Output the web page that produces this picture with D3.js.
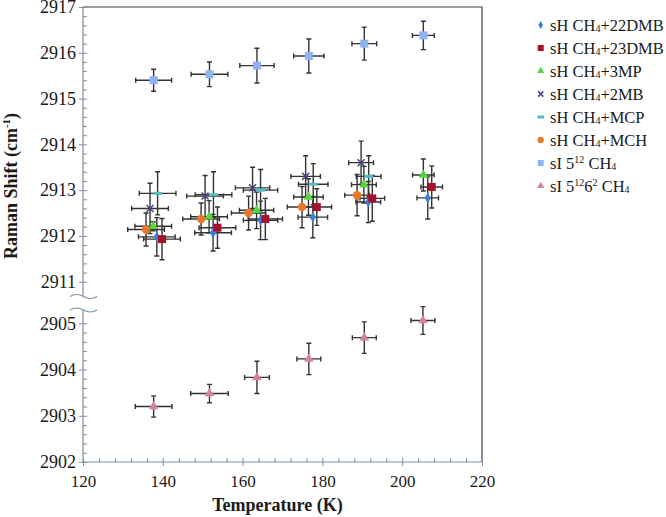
<!DOCTYPE html>
<html>
<head>
<meta charset="utf-8">
<script src="https://cdn.jsdelivr.net/npm/d3@7"></script>
<style>
body { margin: 0; background: #fff; }
text { font-family: "Liberation Serif", "Times New Roman", serif; }
</style>
</head>
<body>
<div id="chart"></div>
<script>
var w = 666;
var h = 517;
var mLeft = 83, mRight = 482, mTop = 7, mBottom = 462;

// data (T in K, Raman shift in cm-1)
var xErrH = [4.6, 4.6, 4.3, 3.7, 3.1, 2.7];

var t22DMB = [138.5, 152.6, 164.5, 177.6, 191.5, 206.4];
var v22DMB = [2911.98, 2912.07, 2912.34, 2912.41, 2912.74, 2912.83];
var e22DMB = [0.42, 0.40, 0.42, 0.45, 0.45, 0.46];

var t23DMB = [139.8, 153.7, 165.7, 178.6, 192.5, 207.4];
var v23DMB = [2911.93, 2912.18, 2912.37, 2912.63, 2912.82, 2913.07];
var e23DMB = [0.45, 0.45, 0.45, 0.40, 0.50, 0.46];

var t3MP = [137.6, 151.6, 163.5, 176.5, 190.4, 205.3];
var v3MP = [2912.21, 2912.42, 2912.56, 2912.85, 2913.12, 2913.33];
var e3MP = [0.10, 0.35, 0.40, 0.40, 0.40, 0.35];

var t2MB = [136.8, 150.6, 162.5, 175.8, 189.7];
var v2MB = [2912.60, 2912.87, 2913.05, 2913.30, 2913.60];
var e2MB = [0.55, 0.45, 0.45, 0.45, 0.47];

var tMCP = [138.7, 152.7, 164.5, 177.7, 191.6];
var vMCP = [2912.93, 2912.90, 2913.00, 2913.13, 2913.30];
var eMCP = [0.47, 0.50, 0.45, 0.45, 0.45];

var tMCH = [135.8, 149.6, 161.5, 174.9, 188.7];
var vMCH = [2912.14, 2912.37, 2912.50, 2912.63, 2912.89];
var eMCH = [0.36, 0.35, 0.37, 0.45, 0.45];

var tS12 = [137.7, 151.7, 163.6, 176.6, 190.5, 205.3];
var vS12 = [2915.40, 2915.53, 2915.72, 2915.93, 2916.20, 2916.38];
var xeS12 = [4.5, 4.6, 4.3, 3.8, 3.1, 2.75];
var yeS12 = [0.24, 0.27, 0.38, 0.37, 0.36, 0.31];

var tS1262 = [137.7, 151.7, 163.6, 176.6, 190.5, 205.2];
var vS1262 = [2903.20, 2903.48, 2903.83, 2904.23, 2904.69, 2905.06];
var xeS1262 = [4.6, 4.7, 3.1, 3.0, 3.0, 3.0];
var yeS1262 = [0.23, 0.20, 0.35, 0.34, 0.34, 0.30];

var upperTicks = [2911, 2912, 2913, 2914, 2915, 2916, 2917];
var lowerTicks = [2902, 2903, 2904, 2905];
var xTicks = [120, 140, 160, 180, 200, 220];

// legend labels: [text, "" | "sub" | "sup"]
var legendLabels = [
    [["sH CH", ""], ["4", "sub"], ["+22DMB", ""]],
    [["sH CH", ""], ["4", "sub"], ["+23DMB", ""]],
    [["sH CH", ""], ["4", "sub"], ["+3MP", ""]],
    [["sH CH", ""], ["4", "sub"], ["+2MB", ""]],
    [["sH CH", ""], ["4", "sub"], ["+MCP", ""]],
    [["sH CH", ""], ["4", "sub"], ["+MCH", ""]],
    [["sI 5", ""], ["12", "sup"], [" CH", ""], ["4", "sub"]],
    [["sI 5", ""], ["12", "sup"], ["6", ""], ["2", "sup"], [" CH", ""], ["4", "sub"]]
];
var colors = ["#3d80dc", "#a8112e", "#56d63c", "#4d4288", "#55b9c8", "#e8772e", "#8db4f0", "#d680a2"];
var shapes = ["diamond", "square", "triangle", "x", "dash", "circle", "square", "triangle"];

function pts(t, v, xe, ye) {
    return t.map(function (d, i) {
        return {t: d, v: v[i], xe: xe[i], ye: ye[i]};
    });
}

var series = [
    pts(t22DMB, v22DMB, xErrH, e22DMB),
    pts(t23DMB, v23DMB, xErrH, e23DMB),
    pts(t3MP, v3MP, xErrH, e3MP),
    pts(t2MB, v2MB, xErrH, e2MB),
    pts(tMCP, vMCP, xErrH, eMCP),
    pts(tMCH, vMCH, xErrH, eMCH),
    pts(tS12, vS12, xeS12, yeS12),
    pts(tS1262, vS1262, xeS1262, yeS1262)
];

var x = d3.scaleLinear().domain([120, 220]).range([mLeft, mRight]);
var yUp = d3.scaleLinear().domain([2911, 2917]).range([281.7, mTop]);
var yLo = d3.scaleLinear().domain([2902, 2905]).range([mBottom, 323.3]);
function y(v) { return v > 2908 ? yUp(v) : yLo(v); }

var svg = d3.select("#chart")
    .append("svg")
    .attr("width", w)
    .attr("height", h);

var axisColor = "#7e8fa0";

// frame top and right
svg.append("path")
    .attr("d", "M" + mLeft + "," + mTop + "H" + mRight + "V" + mBottom)
    .attr("fill", "none")
    .attr("stroke", "#444")
    .attr("stroke-width", 1.2);

function minors(a, b, step) {
    var r = [];
    for (var v = a; v <= b + 1e-9; v += step) r.push(+v.toFixed(2));
    return r;
}
function styleAxis(size) {
    return function (g) {
        g.select(".domain").remove();
        g.selectAll("line").attr("stroke", axisColor);
        g.selectAll("text")
            .style("font-size", size)
            .attr("fill", "#1a1a1a");
    };
}

// minor ticks (inside)
svg.append("g")
    .attr("transform", "translate(" + mLeft + ",0)")
    .call(d3.axisLeft(yUp).tickValues(minors(2911, 2917, 0.2)).tickSize(-4).tickFormat(""))
    .call(styleAxis("0px"));
svg.append("g")
    .attr("transform", "translate(" + mLeft + ",0)")
    .call(d3.axisLeft(yLo).tickValues(minors(2902, 2905, 0.2)).tickSize(-4).tickFormat(""))
    .call(styleAxis("0px"));
svg.append("g")
    .attr("transform", "translate(0," + mBottom + ")")
    .call(d3.axisBottom(x).tickValues(minors(120, 220, 4)).tickSize(-4).tickFormat(""))
    .call(styleAxis("0px"));

// major ticks with labels
svg.append("g")
    .attr("transform", "translate(" + mLeft + ",0)")
    .call(d3.axisLeft(yUp).tickValues(upperTicks).tickSize(4).tickPadding(3).tickFormat(d3.format("d")))
    .call(styleAxis("18px"));
svg.append("g")
    .attr("transform", "translate(" + mLeft + ",0)")
    .call(d3.axisLeft(yLo).tickValues(lowerTicks).tickSize(4).tickPadding(3).tickFormat(d3.format("d")))
    .call(styleAxis("18px"));
svg.append("g")
    .attr("transform", "translate(0," + mBottom + ")")
    .call(d3.axisBottom(x).tickValues(xTicks).tickSize(4).tickPadding(9).tickFormat(d3.format("d")))
    .call(styleAxis("17px"));

// axis lines with break
var breakA = 296.5, breakB = 310;
svg.append("line")
    .attr("x1", mLeft).attr("x2", mLeft).attr("y1", mTop).attr("y2", breakA)
    .attr("stroke", axisColor).attr("stroke-width", 1.2);
svg.append("line")
    .attr("x1", mLeft).attr("x2", mLeft).attr("y1", breakB).attr("y2", mBottom)
    .attr("stroke", axisColor).attr("stroke-width", 1.2);
svg.append("line")
    .attr("x1", mLeft).attr("x2", mRight).attr("y1", mBottom).attr("y2", mBottom)
    .attr("stroke", axisColor).attr("stroke-width", 1.2);

function wave(yy) {
    return "M70," + yy + " Q76.5," + (yy - 4) + " 83.5," + yy + " T97," + yy;
}
svg.append("path")
    .attr("d", wave(breakA) + " L97," + breakB + " Q90.25," + (breakB + 4) + " 83.5," + breakB + " T70," + breakB + " Z")
    .attr("fill", "#fff");
[breakA, breakB].forEach(function (yy) {
    svg.append("path")
        .attr("d", wave(yy))
        .attr("fill", "none")
        .attr("stroke", axisColor)
        .attr("stroke-width", 1.2);
});

// error bars
var cap = 2.5;
var eg = svg.append("g")
    .attr("stroke", "#333")
    .attr("stroke-width", 1.4)
    .attr("fill", "none");
series.forEach(function (s) {
    eg.selectAll(null)
        .data(s)
        .enter()
        .append("path")
        .attr("d", function (d) {
            var cx = x(d.t), cy = y(d.v);
            var x0 = x(d.t - d.xe), x1 = x(d.t + d.xe);
            var y0 = y(d.v - d.ye), y1 = y(d.v + d.ye);
            return "M" + x0 + "," + cy + "H" + x1 +
                "M" + x0 + "," + (cy - cap) + "V" + (cy + cap) +
                "M" + x1 + "," + (cy - cap) + "V" + (cy + cap) +
                "M" + cx + "," + y0 + "V" + y1 +
                "M" + (cx - cap) + "," + y0 + "H" + (cx + cap) +
                "M" + (cx - cap) + "," + y1 + "H" + (cx + cap);
        });
});

// markers
function drawMarker(g, shape, color, k) {
    if (shape === "diamond") {
        g.append("path").attr("d", d3.symbol(d3.symbolDiamond, 34 * k * k)).attr("fill", color);
    } else if (shape === "square") {
        g.append("rect").attr("x", -4 * k).attr("y", -4 * k).attr("width", 8 * k).attr("height", 8 * k).attr("fill", color);
    } else if (shape === "triangle") {
        g.append("path").attr("d", d3.symbol(d3.symbolTriangle, 40 * k * k)).attr("fill", color);
    } else if (shape === "circle") {
        g.append("circle").attr("r", 4.2 * k).attr("fill", color);
    } else if (shape === "dash") {
        g.append("rect").attr("x", -4.5 * k).attr("y", -1.5).attr("width", 9 * k).attr("height", 3).attr("fill", color);
    } else if (shape === "x") {
        var r = 3.5 * k;
        g.append("path")
            .attr("d", "M" + (-r) + "," + (-r) + "L" + r + "," + r + "M" + (-r) + "," + r + "L" + r + "," + (-r))
            .attr("stroke", color).attr("stroke-width", 1.5).attr("fill", "none");
    }
}

series.forEach(function (s, i) {
    svg.append("g")
        .selectAll("g")
        .data(s)
        .enter()
        .append("g")
        .attr("transform", function (d) { return "translate(" + x(d.t) + "," + y(d.v) + ")"; })
        .each(function () { drawMarker(d3.select(this), shapes[i], colors[i], 1); });
});

// legend
var shift = {"": 0, "sub": 1.5, "sup": -6};
var legend = svg.append("g");
legendLabels.forEach(function (lab, i) {
    var ly = 25 + i * 23;
    var mg = legend.append("g").attr("transform", "translate(540.7," + ly + ")");
    drawMarker(mg, shapes[i], colors[i], 0.75);
    var t = legend.append("text")
        .attr("x", 550)
        .attr("y", ly + 5.5)
        .style("font-size", "16.5px")
        .attr("fill", "#1a1a1a");
    var cur = 0;
    lab.forEach(function (p) {
        var target = shift[p[1]];
        var ts = t.append("tspan").attr("dy", target - cur).text(p[0]);
        if (p[1] !== "") ts.style("font-size", "10px");
        cur = target;
    });
});

// axis titles
svg.append("text")
    .attr("x", (mLeft + mRight) / 2 - 5)
    .attr("y", 511)
    .attr("text-anchor", "middle")
    .style("font-size", "18px")
    .attr("font-weight", "bold")
    .attr("fill", "#1a1a1a")
    .text("Temperature (K)");

var yt = svg.append("text")
    .attr("transform", "translate(17,186) rotate(-90)")
    .attr("text-anchor", "middle")
    .style("font-size", "18px")
    .attr("font-weight", "bold")
    .attr("fill", "#1a1a1a");
yt.append("tspan").text("Raman Shift (cm");
yt.append("tspan").style("font-size", "11px").attr("dy", -7).text("-1");
yt.append("tspan").attr("dy", 7).text(")");
</script>
</body>
</html>
